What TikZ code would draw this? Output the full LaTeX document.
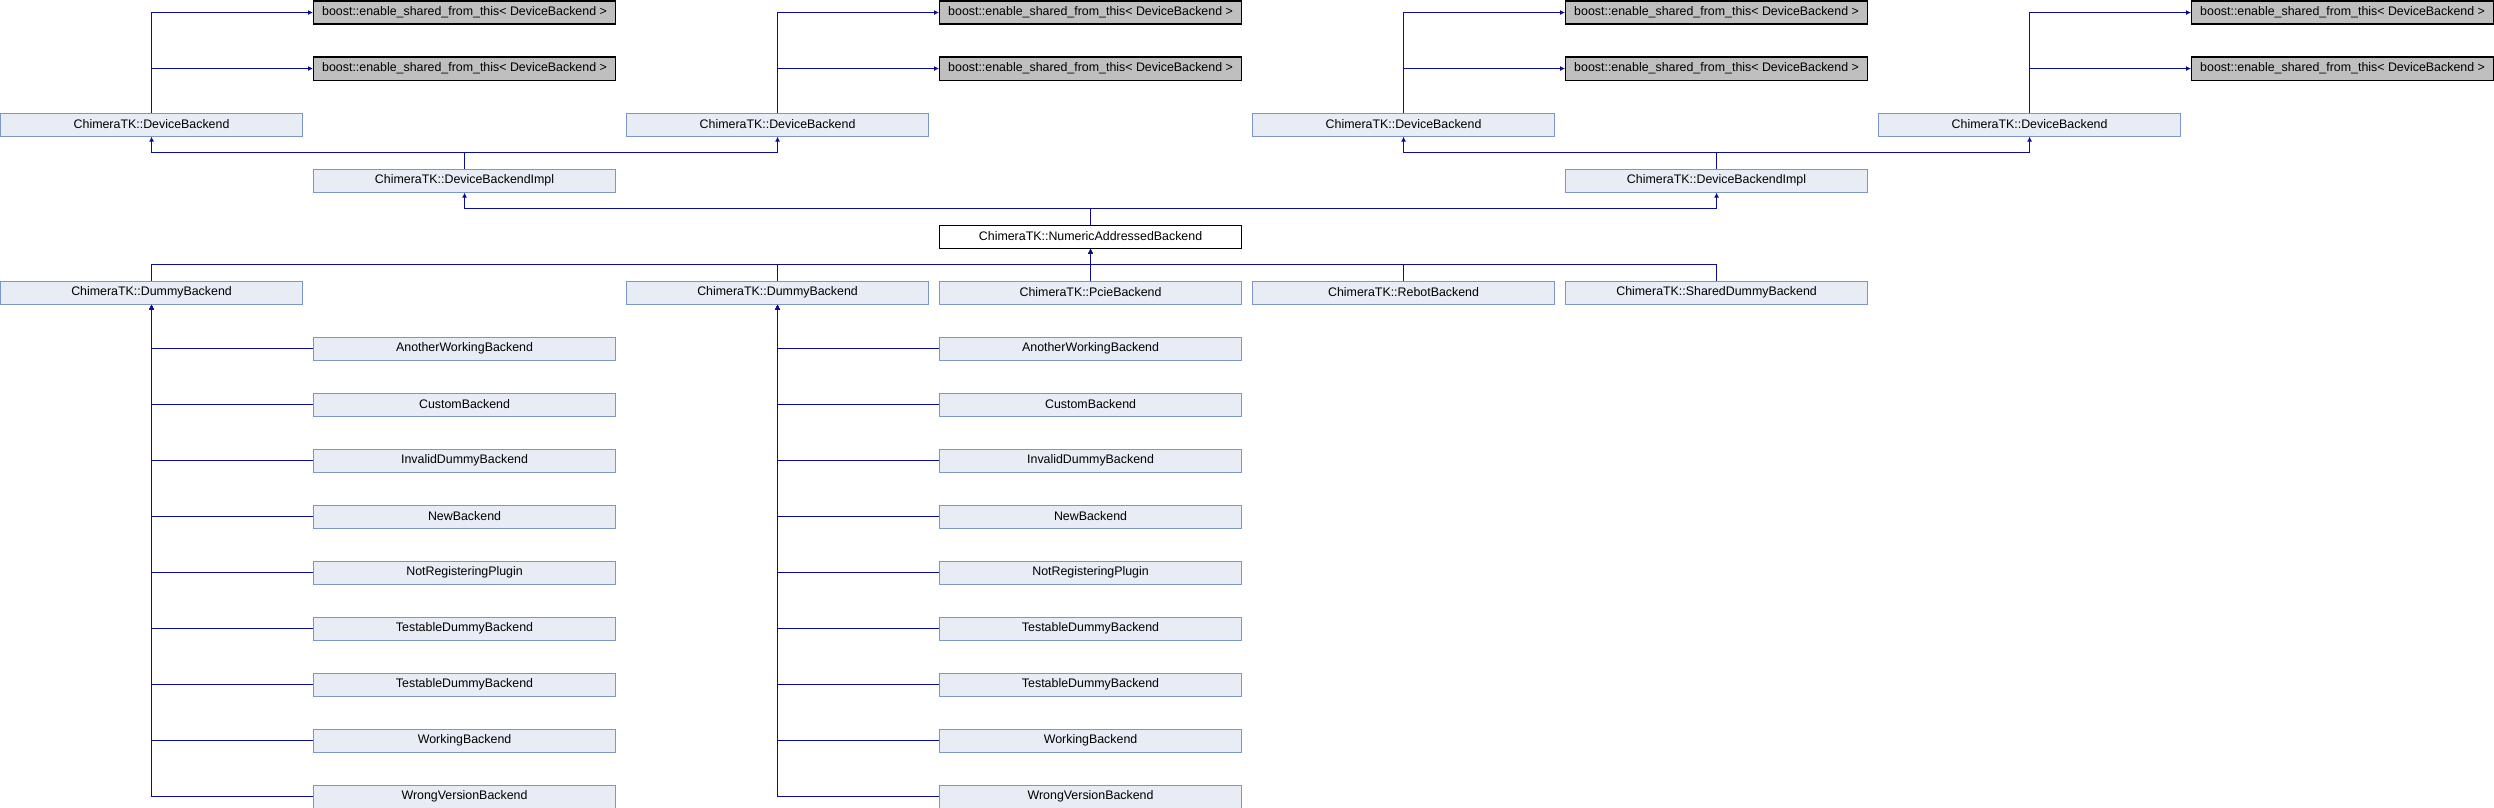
\documentclass[tikz,border=0pt]{standalone}
\usepackage{fontspec}
\setmainfont{Liberation Sans}
\usetikzlibrary{arrows.meta}
\definecolor{edgec}{RGB}{12,12,150}
\definecolor{boxfill}{RGB}{232,236,245}
\definecolor{boxline}{RGB}{124,149,202}
\definecolor{extfill}{RGB}{191,191,191}
\tikzset{
  cls/.style={draw=boxline, fill=boxfill, line width=1.1pt, minimum width=302pt, minimum height=23pt, inner sep=0pt, anchor=north west, font=\fontsize{12.4}{14}\selectfont},
  ext/.style={cls, draw=black, fill=extfill},
  cur/.style={cls, draw=black, fill=white},
  edge/.style={draw=edgec, line width=1.3pt, -{Latex[length=5pt,width=5pt]}},
  trunk/.style={draw=edgec, line width=1.3pt},
}
\begin{document}
\begin{tikzpicture}[x=1pt,y=-1pt]
\useasboundingbox (0,0) rectangle (2494,808);
% boost boxes
\foreach \c/\n in {1/a,3/b,5/c,7/d}{
  \node[ext] (bs\n0) at ({313*\c},0.5) {boost::enable\_shared\_from\_this< DeviceBackend >};
  \node[ext] (bs\n1) at ({313*\c},56.5) {boost::enable\_shared\_from\_this< DeviceBackend >};
}
% DeviceBackend
\node[cls] (dba) at (0,112.5) {ChimeraTK::DeviceBackend};
\node[cls] (dbb) at (626,112.5) {ChimeraTK::DeviceBackend};
\node[cls] (dbc) at (1252,112.5) {ChimeraTK::DeviceBackend};
\node[cls] (dbd) at (1878,112.5) {ChimeraTK::DeviceBackend};
% DeviceBackendImpl
\node[cls] (dbia) at (313,168.5) {ChimeraTK::DeviceBackendImpl};
\node[cls] (dbib) at (1565,168.5) {ChimeraTK::DeviceBackendImpl};
% NumericAddressedBackend
\node[cur] (nab) at (939,224.5) {ChimeraTK::NumericAddressedBackend};
% row 5
\node[cls] (dma) at (0,280.5) {ChimeraTK::DummyBackend};
\node[cls] (dmb) at (626,280.5) {ChimeraTK::DummyBackend};
\node[cls] (pcie) at (939,280.5) {ChimeraTK::PcieBackend};
\node[cls] (rebot) at (1252,280.5) {ChimeraTK::RebotBackend};
\node[cls] (shd) at (1565,280.5) {ChimeraTK::SharedDummyBackend};
% children
\foreach \i/\t in {6/AnotherWorkingBackend,7/CustomBackend,8/InvalidDummyBackend,9/NewBackend,10/NotRegisteringPlugin,11/TestableDummyBackend,12/TestableDummyBackend,13/WorkingBackend,14/WrongVersionBackend}{
  \node[cls] (ca\i) at (313,{56*\i+0.5}) {\t};
  \node[cls] (cb\i) at (939,{56*\i+0.5}) {\t};
  \draw[edge] (ca\i.west) -| (dma.south);
  \draw[edge] (cb\i.west) -| (dmb.south);
}
% DeviceBackend -> boost
\foreach \d/\n in {dba/a,dbb/b,dbc/c,dbd/d}{
  \draw[edge] (\d.north) |- (bs\n0.west);
  \draw[edge] (\d.north) |- (bs\n1.west);
}
% DeviceBackendImpl -> DeviceBackend
\draw[edge] (dbia.north) -- ++(0,-16) -| (dba.south);
\draw[edge] (dbia.north) -- ++(0,-16) -| (dbb.south);
\draw[edge] (dbib.north) -- ++(0,-16) -| (dbc.south);
\draw[edge] (dbib.north) -- ++(0,-16) -| (dbd.south);
% NAB -> DeviceBackendImpl
\draw[edge] (nab.north) -- ++(0,-16) -| (dbia.south);
\draw[edge] (nab.north) -- ++(0,-16) -| (dbib.south);
% row 5 -> NAB
\foreach \d in {dma,dmb,pcie,rebot,shd}{
  \draw[edge] (\d.north) -- ++(0,-16) -| (nab.south);
}
\end{tikzpicture}
\end{document}
